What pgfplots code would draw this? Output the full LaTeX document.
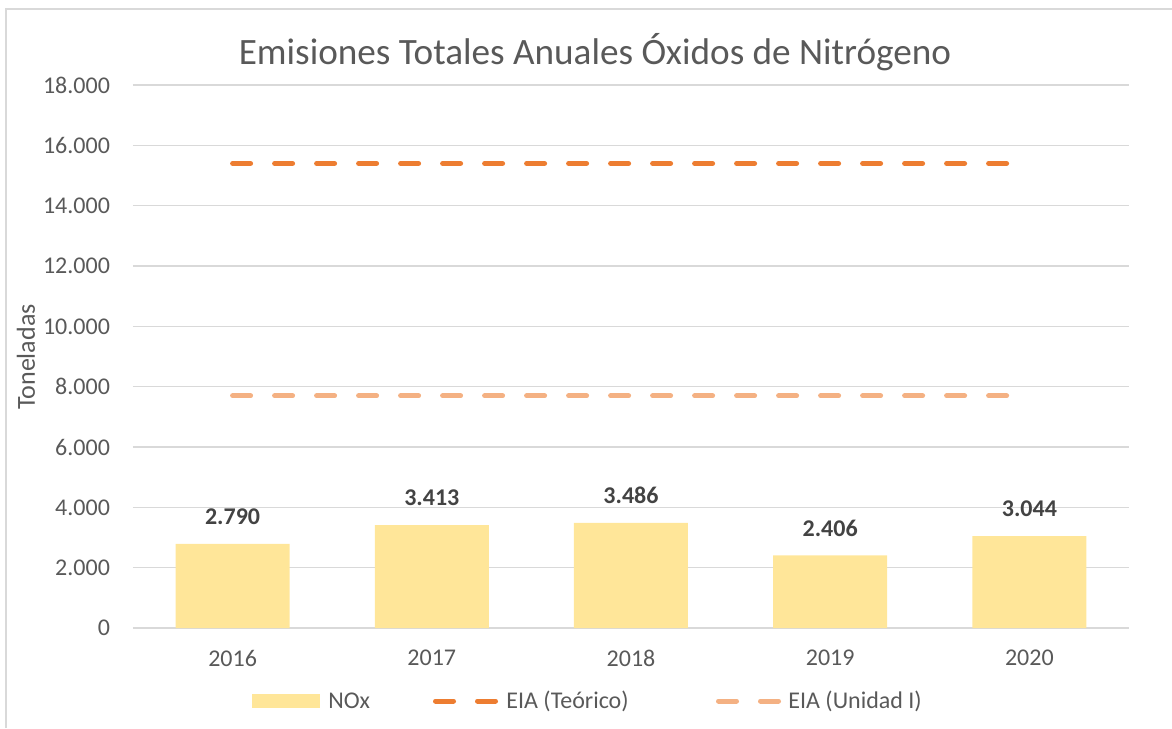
\documentclass[border=0pt]{standalone}
\usepackage{fontspec}
\setmainfont{Carlito}
\usepackage{pgfplots}
\pgfplotsset{compat=1.18}

\definecolor{noxbar}{HTML}{FFE699}
\definecolor{eiateo}{HTML}{ED7D31}
\definecolor{eiauni}{HTML}{F4B183}
\definecolor{txt}{HTML}{595959}
\definecolor{grd}{HTML}{D9D9D9}

\begin{document}
\begin{tikzpicture}
\begin{axis}[
    scale only axis,
    width=498pt, height=271.5pt,
    xmin=-0.5, xmax=4.5,
    ymin=0, ymax=18000,
    ytick={0,2000,...,18000},
    xtick={0,1,2,3,4},
    xticklabels={2016,2017,2018,2019,2020},
    scaled y ticks=false,
    axis line style={draw=none},
    major tick style={draw=none},
    ymajorgrids,
    grid style={grd, line width=0.75pt},
    /pgf/number format/.cd, 1000 sep={.}, assume math mode=true,
    /pgfplots/.cd,
    tick label style={font=\fontsize{12}{14}\selectfont, text=txt},
    yticklabel style={xshift=-8pt},
    xticklabel style={yshift=-7.6pt},
    clip=false,
]
\addplot[ybar, bar width=57pt, fill=noxbar, draw=none,
    nodes near coords,
    nodes near coords style={font=\fontsize{12}{14}\selectfont\bfseries, text=txt!75!black, anchor=south, yshift=6pt}]
    coordinates {(0,2790) (1,3413) (2,3486) (3,2406) (4,3044)};
\addplot[eiateo, line width=2.5pt, line cap=round, dash pattern=on 9pt off 12pt]
    coordinates {(0,15400) (1,15400) (2,15400) (3,15400) (4,15400)};
\addplot[eiauni, line width=2.5pt, line cap=round, dash pattern=on 9pt off 12pt]
    coordinates {(0,7700) (1,7700) (2,7700) (3,7700) (4,7700)};
\end{axis}
% overlay in reference pixel units (1px = 0.5pt), origin top-left of the image
\begin{scope}[x=0.5pt, y=-0.5pt, shift={(-66.5pt,314pt)}]
\path[use as bounding box] (0,0) rectangle (1172,728);
\draw[grd, line width=1pt] (6,728) -- (6,9) -- (1172,9);
\node[text=txt, font=\fontsize{18.6}{22}\selectfont] at (595,52) {Emisiones Totales Anuales Óxidos de Nitrógeno};
\node[text=txt, rotate=90, font=\fontsize{13}{15}\selectfont] at (26,357) {Toneladas};
\fill[noxbar] (252,694) rectangle (320,708);
\node[text=txt, anchor=west, inner sep=0pt, font=\fontsize{12}{14}\selectfont] at (328,701) {NOx};
\draw[eiateo, line width=2.5pt, line cap=round, dash pattern=on 9pt off 12pt] (435.5,701) -- (495.5,701);
\node[text=txt, anchor=west, inner sep=0pt, font=\fontsize{12}{14}\selectfont] at (506,701) {EIA (Teórico)};
\draw[eiauni, line width=2.5pt, line cap=round, dash pattern=on 9pt off 12pt] (718.5,701) -- (778.5,701);
\node[text=txt, anchor=west, inner sep=0pt, font=\fontsize{12}{14}\selectfont] at (788,701) {EIA (Unidad I)};
\end{scope}
\end{tikzpicture}
\end{document}
